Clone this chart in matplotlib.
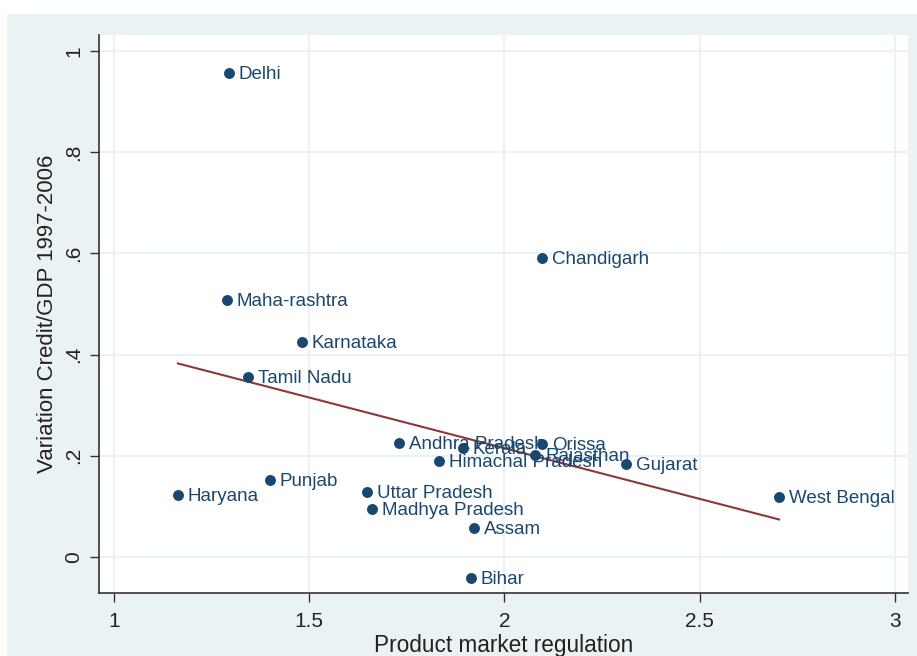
import numpy as np
import matplotlib.pyplot as plt
from matplotlib.patches import Rectangle

plt.rcParams['font.family'] = ['Liberation Sans', 'DejaVu Sans']

states = ['Delhi', 'Chandigarh', 'Maha-rashtra', 'Karnataka', 'Tamil Nadu',
          'Andhra Pradesh', 'Kerala', 'Orissa', 'Rajasthan', 'Himachal Pradesh',
          'Gujarat', 'West Bengal', 'Haryana', 'Punjab', 'Uttar Pradesh',
          'Madhya Pradesh', 'Assam', 'Bihar']
pmr = [1.294, 2.096, 1.289, 1.481, 1.343,
       1.730, 1.894, 2.096, 2.079, 1.832,
       2.311, 2.703, 1.164, 1.399, 1.648,
       1.661, 1.922, 1.914]
credit_gdp = [0.955, 0.590, 0.507, 0.424, 0.355,
              0.225, 0.215, 0.223, 0.201, 0.189,
              0.184, 0.118, 0.122, 0.152, 0.128,
              0.095, 0.057, -0.041]

x_ticks = [1, 1.5, 2, 2.5, 3]
x_tick_labels = ['1', '1.5', '2', '2.5', '3']
y_ticks = [0, 0.2, 0.4, 0.6, 0.8, 1]
y_tick_labels = ['0', '.2', '.4', '.6', '.8', '1']

navy = '#1a476f'
maroon = '#90353b'
bg = '#eaf2f3'
ink = '#222222'

fig = plt.figure(figsize=(9.17, 6.56), dpi=100, facecolor='white')
# light graph region behind the plot area
fig.add_artist(Rectangle((7 / 917, 0), 1 - 7 / 917, 1 - 14 / 656,
                         transform=fig.transFigure, facecolor=bg,
                         edgecolor='none', zorder=-10))
ax = fig.add_axes([99 / 917, 1 - 593 / 656, 809 / 917, 558 / 656])
ax.set_facecolor('white')

x = np.array(pmr)
y = np.array(credit_gdp)

# linear fit over the observed range
b, a = np.polyfit(x, y, 1)
xf = np.array([x.min(), x.max()])
ax.plot(xf, a + b * xf, color=maroon, lw=1.5, zorder=2)

ax.scatter(x, y, s=62, color=navy, zorder=3, linewidths=0)
for name, xi, yi in zip(states, pmr, credit_gdp):
    ax.annotate(name, (xi, yi), xytext=(7, -1), textcoords='offset points',
                va='center', ha='left', fontsize=13.5, color=navy, zorder=4)

ax.set_xlim(0.962, 3.033)
ax.set_ylim(-0.071, 1.031)
ax.set_xticks(x_ticks)
ax.set_xticklabels(x_tick_labels)
ax.set_yticks(y_ticks)
ax.set_yticklabels(y_tick_labels, rotation=90, va='center')
ax.grid(True, color=bg, lw=1.5, zorder=0)
ax.set_axisbelow(True)

for side in ['top', 'right']:
    ax.spines[side].set_visible(False)
for side in ['left', 'bottom']:
    ax.spines[side].set_color('#333333')
    ax.spines[side].set_linewidth(1.2)
ax.tick_params(axis='both', direction='out', length=6.5, width=1.0,
               color='#333333', labelsize=15, labelcolor=ink)
ax.tick_params(axis='x', pad=7)
ax.tick_params(axis='y', pad=5)

ax.set_xlabel('Product market regulation', fontsize=16.3, labelpad=2, color=ink)
ax.set_ylabel('Variation Credit/GDP 1997-2006', fontsize=16, labelpad=4, color=ink)

fig.savefig('out.png', dpi=100, facecolor=fig.get_facecolor())
